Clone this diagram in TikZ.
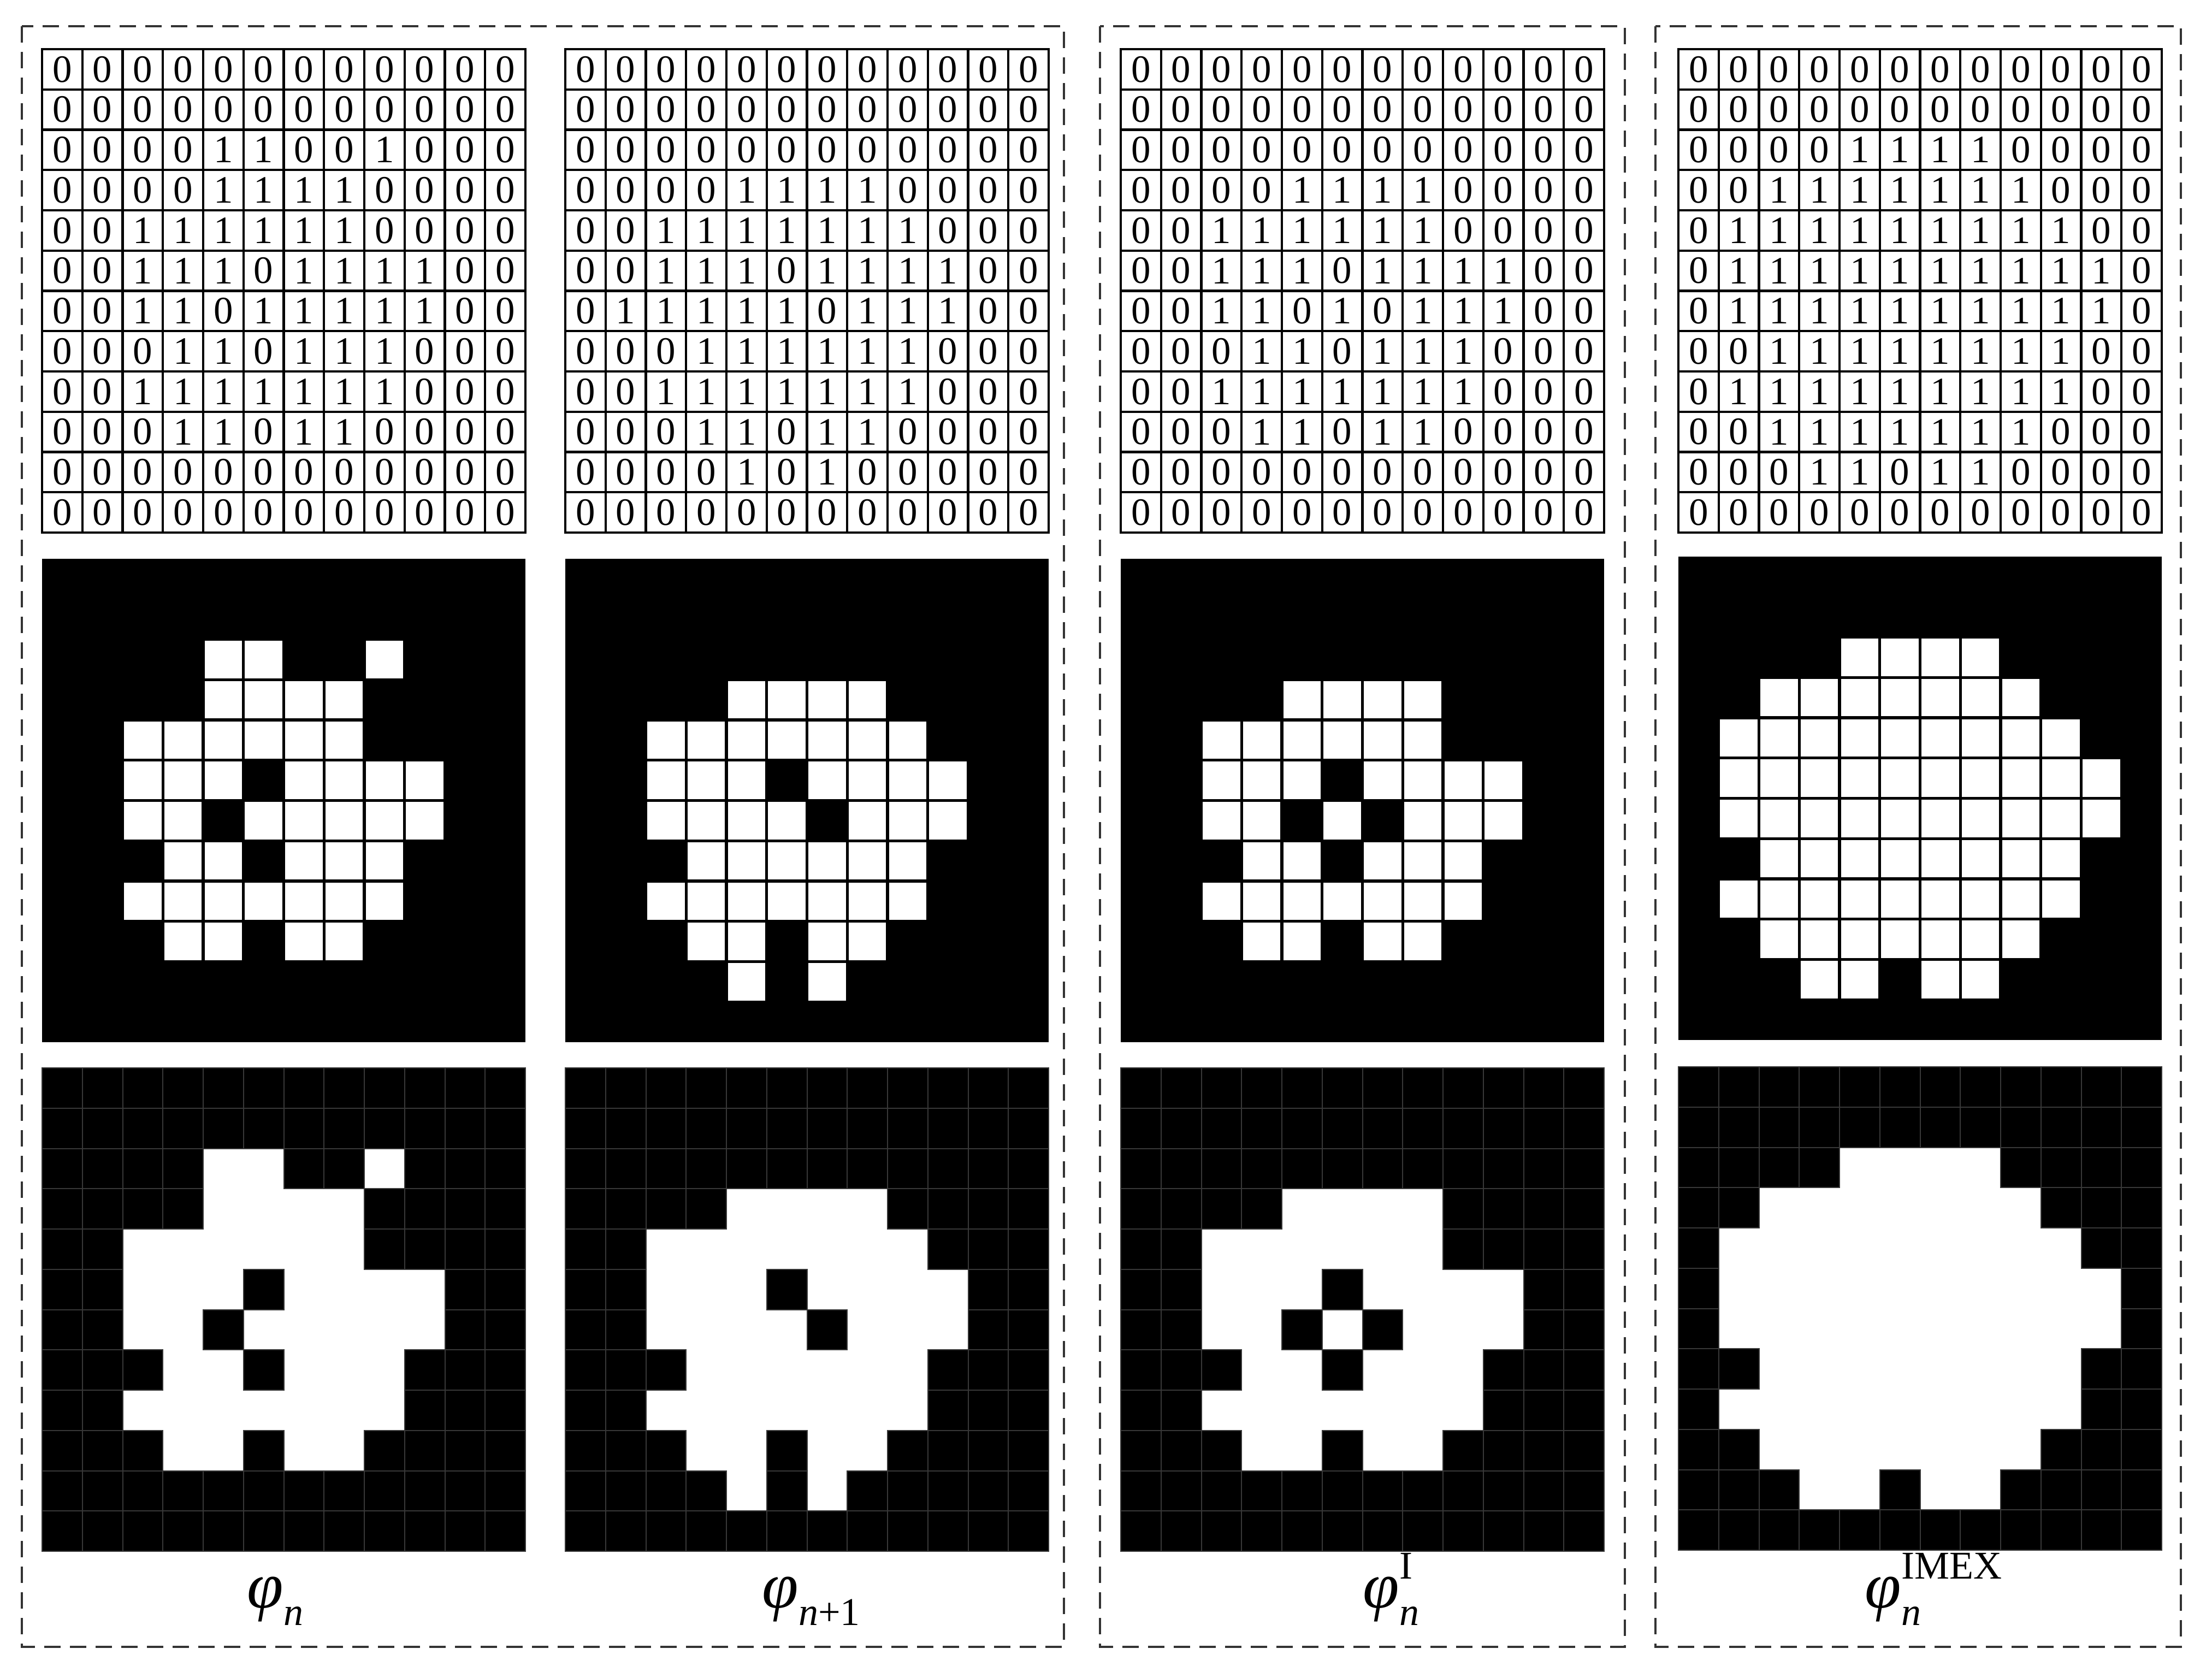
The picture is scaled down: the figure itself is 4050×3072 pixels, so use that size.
\documentclass[tikz,border=0pt]{standalone}
\usepackage{fontspec}
\setmainfont{Liberation Serif}
\tikzset{
  digit/.style={inner sep=0pt, font=\fontsize{17.75}{18}\selectfont},
  gridline/.style={line width=1.1pt, black},
  boxdash/.style={draw=black!80, line width=1pt, dash pattern=on 7.5pt off 4.25pt},
  cellline/.style={draw=black!78, line width=0.5pt},
  lab/.style={inner sep=0pt, anchor=base west, font=\fontsize{30}{30}\selectfont},
}
\newcommand\subsz{\fontsize{18}{18}\selectfont}
\def\MatA{{0,0,0,0,0,0,0,0,0,0,0,0},{0,0,0,0,0,0,0,0,0,0,0,0},{0,0,0,0,1,1,0,0,1,0,0,0},{0,0,0,0,1,1,1,1,0,0,0,0},{0,0,1,1,1,1,1,1,0,0,0,0},{0,0,1,1,1,0,1,1,1,1,0,0},{0,0,1,1,0,1,1,1,1,1,0,0},{0,0,0,1,1,0,1,1,1,0,0,0},{0,0,1,1,1,1,1,1,1,0,0,0},{0,0,0,1,1,0,1,1,0,0,0,0},{0,0,0,0,0,0,0,0,0,0,0,0},{0,0,0,0,0,0,0,0,0,0,0,0}}
\def\MatB{{0,0,0,0,0,0,0,0,0,0,0,0},{0,0,0,0,0,0,0,0,0,0,0,0},{0,0,0,0,0,0,0,0,0,0,0,0},{0,0,0,0,1,1,1,1,0,0,0,0},{0,0,1,1,1,1,1,1,1,0,0,0},{0,0,1,1,1,0,1,1,1,1,0,0},{0,1,1,1,1,1,0,1,1,1,0,0},{0,0,0,1,1,1,1,1,1,0,0,0},{0,0,1,1,1,1,1,1,1,0,0,0},{0,0,0,1,1,0,1,1,0,0,0,0},{0,0,0,0,1,0,1,0,0,0,0,0},{0,0,0,0,0,0,0,0,0,0,0,0}}
\def\ImgB{{0,0,0,0,0,0,0,0,0,0,0,0},{0,0,0,0,0,0,0,0,0,0,0,0},{0,0,0,0,0,0,0,0,0,0,0,0},{0,0,0,0,1,1,1,1,0,0,0,0},{0,0,1,1,1,1,1,1,1,0,0,0},{0,0,1,1,1,0,1,1,1,1,0,0},{0,0,1,1,1,1,0,1,1,1,0,0},{0,0,0,1,1,1,1,1,1,0,0,0},{0,0,1,1,1,1,1,1,1,0,0,0},{0,0,0,1,1,0,1,1,0,0,0,0},{0,0,0,0,1,0,1,0,0,0,0,0},{0,0,0,0,0,0,0,0,0,0,0,0}}
\def\MatC{{0,0,0,0,0,0,0,0,0,0,0,0},{0,0,0,0,0,0,0,0,0,0,0,0},{0,0,0,0,0,0,0,0,0,0,0,0},{0,0,0,0,1,1,1,1,0,0,0,0},{0,0,1,1,1,1,1,1,0,0,0,0},{0,0,1,1,1,0,1,1,1,1,0,0},{0,0,1,1,0,1,0,1,1,1,0,0},{0,0,0,1,1,0,1,1,1,0,0,0},{0,0,1,1,1,1,1,1,1,0,0,0},{0,0,0,1,1,0,1,1,0,0,0,0},{0,0,0,0,0,0,0,0,0,0,0,0},{0,0,0,0,0,0,0,0,0,0,0,0}}
\def\MatD{{0,0,0,0,0,0,0,0,0,0,0,0},{0,0,0,0,0,0,0,0,0,0,0,0},{0,0,0,0,1,1,1,1,0,0,0,0},{0,0,1,1,1,1,1,1,1,0,0,0},{0,1,1,1,1,1,1,1,1,1,0,0},{0,1,1,1,1,1,1,1,1,1,1,0},{0,1,1,1,1,1,1,1,1,1,1,0},{0,0,1,1,1,1,1,1,1,1,0,0},{0,1,1,1,1,1,1,1,1,1,0,0},{0,0,1,1,1,1,1,1,1,0,0,0},{0,0,0,1,1,0,1,1,0,0,0,0},{0,0,0,0,0,0,0,0,0,0,0,0}}
% #1 left x, #2 data, #3 node name prefix
\newcommand\PanelMatrix[3]{%
  \foreach \row [count=\mr from 0] in #2 {
    \foreach \v [count=\mc from 0] in \row {
      \node[digit] (#3-\mr-\mc) at ({#1+(\mc+0.5)*73.75},{90+(\mr+0.5)*73.75}) {\v};
    }
  }
  \foreach \i in {0,...,12} {
    \draw[gridline] ({#1+\i*73.75},90) -- ({#1+\i*73.75},975);
    \draw[gridline] ({#1-2},{90+\i*73.75}) -- ({#1+887},{90+\i*73.75});
  }
}
% #1 left x, #2 data, #3 top y
\newcommand\PanelBW[3]{%
  \fill[black] (#1,#3) rectangle ({#1+885},{#3+885});
  \foreach \row [count=\mr from 0] in #2 {
    \foreach \v [count=\mc from 0] in \row {
      \ifnum\v=1
        \fill[white] ({#1+\mc*73.75+2.6},{#3+\mr*73.75+2.6}) rectangle ({#1+(\mc+1)*73.75-2.6},{#3+(\mr+1)*73.75-2.6});
      \fi
    }
  }
}
\newcommand\PanelGrid[3]{%
  \foreach \row [count=\mr from 0] in #2 {
    \foreach \v [count=\mc from 0] in \row {
      \ifnum\v=0
        \fill[black] ({#1+\mc*73.75},{#3+\mr*73.75}) rectangle ({#1+(\mc+1)*73.75},{#3+(\mr+1)*73.75});
      \fi
    }
  }
  \foreach \row [count=\mr from 0] in #2 {
    \foreach \v [count=\mc from 0] in \row {
      \ifnum\v=0
        \draw[cellline] ({#1+\mc*73.75},{#3+\mr*73.75}) rectangle ({#1+(\mc+1)*73.75},{#3+(\mr+1)*73.75});
      \fi
    }
  }
}
\begin{document}
\begin{tikzpicture}[x=0.25pt,y=-0.25pt]
  \useasboundingbox (0,0) rectangle (4050,3072);
  \fill[white] (0,0) rectangle (4050,3072);
  % dashed group boxes
  \draw[boxdash] (40,48) rectangle (1948,3015);
  \draw[boxdash] (2014,48) rectangle (2975,3015);
  \draw[boxdash] (3031,48) rectangle (3993,3015);
  % matrices
  \PanelMatrix{77}{\MatA}{ma}
  \PanelMatrix{1035}{\MatB}{mb}
  \PanelMatrix{2052}{\MatC}{mc}
  \PanelMatrix{3073}{\MatD}{md}
  % middle images
  \PanelBW{77}{\MatA}{1023}
  \PanelBW{1035}{\ImgB}{1023}
  \PanelBW{2052}{\MatC}{1023}
  \PanelBW{3073}{\MatD}{1019}
  % bottom images
  \PanelGrid{77}{\MatA}{1955}
  \PanelGrid{1035}{\ImgB}{1955}
  \PanelGrid{2052}{\MatC}{1955}
  \PanelGrid{3073}{\MatD}{1953}
  % labels
  \node[lab] (lab1) at (452,2943) {\textit{φ}\raisebox{-8pt}{\subsz\textit{n}}};
  \node[lab] (lab2) at (1395,2943) {\textit{φ}\raisebox{-8pt}{\subsz\textit{n}+1}};
  \node[lab] (lab3) at (2495,2943) {\textit{φ}\rlap{\raisebox{13.25pt}{\subsz I}}\raisebox{-8pt}{\subsz\textit{n}}};
  \node[lab] (lab4) at (3414,2943) {\textit{φ}\rlap{\raisebox{-8pt}{\subsz\textit{n}}}\raisebox{13.25pt}{\subsz IMEX}};
\end{tikzpicture}
\end{document}
